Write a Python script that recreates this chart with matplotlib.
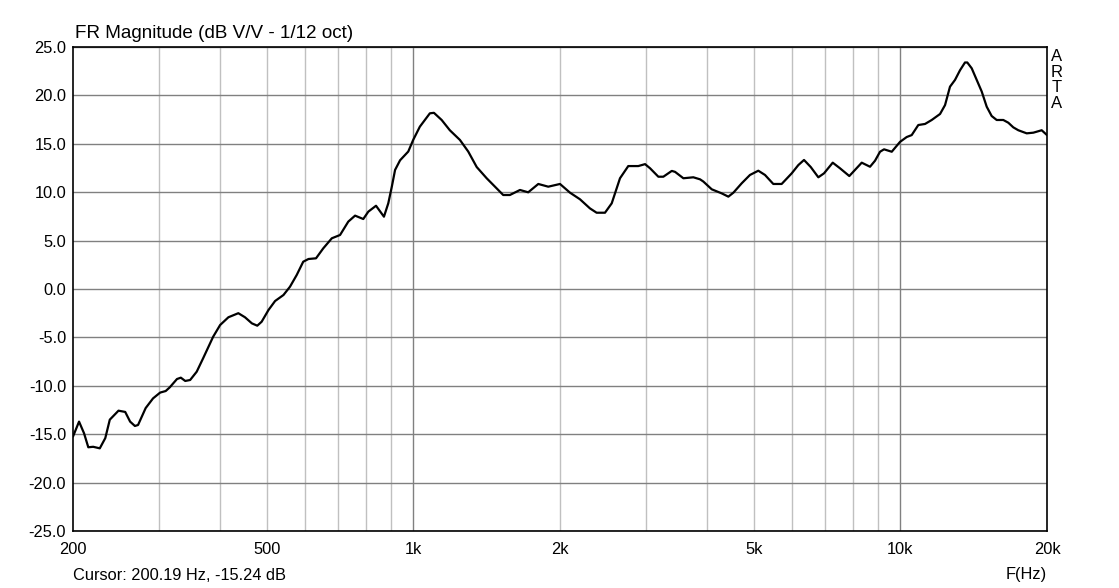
import numpy as np
import matplotlib
matplotlib.use("Agg")
import matplotlib.pyplot as plt
from matplotlib.ticker import FixedLocator, NullFormatter

plt.rcParams['font.family'] = ['Liberation Sans', 'DejaVu Sans']

freq_hz = [200, 205.8, 210.7, 215, 220, 227, 233, 238, 248, 256, 262, 268, 272, 282, 292,
           302, 310, 316, 327, 333, 340, 348, 359, 370, 388, 401, 417, 437, 451, 466, 478,
           488, 504, 520, 541, 558, 576, 594, 609, 631, 653, 680, 707, 735, 759, 789, 808,
           838, 870, 888, 903, 917, 939, 976, 999, 1031, 1081, 1102, 1143, 1188, 1246, 1296,
           1349, 1414, 1471, 1529, 1578, 1655, 1721, 1805, 1892, 2000, 2097, 2198, 2304,
           2378, 2474, 2554, 2656, 2762, 2896, 2990, 3062, 3184, 3260, 3393, 3446, 3584,
           3757, 3878, 3939, 4098, 4296, 4433, 4540, 4722, 4910, 5108, 5272, 5483, 5704,
           5982, 6171, 6340, 6545, 6784, 6969, 7262, 7516, 7854, 8068, 8329, 8662, 8869,
           9082, 9256, 9599, 9983, 10303, 10549, 10883, 11236, 11596, 12062, 12350, 12643,
           12946, 13257, 13571, 13720, 14010, 14344, 14688, 15040, 15397, 15766, 16267,
           16655, 17054, 17463, 18170, 18752, 19504, 20000]
mag_db = [-15.24, -13.7, -14.9, -16.35, -16.3, -16.46, -15.4, -13.5, -12.57, -12.7, -13.7,
          -14.15, -14.05, -12.3, -11.3, -10.7, -10.54, -10.16, -9.3, -9.16, -9.5, -9.4,
          -8.54, -7.16, -4.93, -3.72, -2.92, -2.5, -2.92, -3.55, -3.79, -3.38, -2.17,
          -1.24, -0.62, 0.24, 1.45, 2.82, 3.1, 3.17, 4.2, 5.24, 5.58, 6.96, 7.58, 7.23,
          7.99, 8.6, 7.47, 8.85, 10.57, 12.3, 13.3, 14.2, 15.4, 16.77, 18.15, 18.2, 17.46,
          16.4, 15.4, 14.2, 12.6, 11.44, 10.57, 9.71, 9.71, 10.23, 9.99, 10.85, 10.57,
          10.85, 9.95, 9.27, 8.33, 7.88, 7.88, 8.85, 11.44, 12.7, 12.7, 12.9, 12.47, 11.6,
          11.6, 12.2, 12.1, 11.44, 11.54, 11.33, 11.1, 10.3, 9.88, 9.54, 9.95, 10.92,
          11.78, 12.22, 11.78, 10.85, 10.85, 11.95, 12.8, 13.33, 12.6, 11.54, 11.95,
          13.05, 12.47, 11.67, 12.3, 13.05, 12.63, 13.25, 14.18, 14.43, 14.18, 15.2, 15.7,
          15.9, 16.94, 17.05, 17.46, 18.08, 19.0, 20.9, 21.6, 22.6, 23.4, 23.4, 22.8,
          21.6, 20.4, 18.83, 17.87, 17.46, 17.46, 17.18, 16.7, 16.4, 16.08, 16.15, 16.4,
          15.9]

x_ticks = [200, 500, 1000, 2000, 5000, 10000, 20000]
x_tick_labels = ["200", "500", "1k", "2k", "5k", "10k", "20k"]
minor_grid = [300, 400, 500, 600, 700, 800, 900, 2000, 3000, 4000, 5000, 6000, 7000,
              8000, 9000]
major_grid = [1000, 10000]
y_ticks = [25, 20, 15, 10, 5, 0, -5, -10, -15, -20, -25]
y_tick_labels = ["%.1f" % v for v in y_ticks]

fig = plt.figure(figsize=(11.19, 5.88), dpi=100)
ax = fig.add_axes([73 / 1119, 1 - 531 / 588, 974 / 1119, 484 / 588])
ax.set_xscale('log')
ax.set_xlim(200, 20000)
ax.set_ylim(-25, 25)

for f in minor_grid:
    ax.axvline(f, color='#c0c0c0', lw=1.0, zorder=1)
for f in major_grid:
    ax.axvline(f, color='#808080', lw=1.0, zorder=1)
for v in y_ticks:
    ax.axhline(v, color='#808080', lw=1.0, zorder=1)

ax.plot(freq_hz, mag_db, color='black', lw=1.6, zorder=3,
        solid_joinstyle='round', solid_capstyle='round')

ax.xaxis.set_major_locator(FixedLocator(x_ticks))
ax.set_xticklabels(x_tick_labels)
ax.xaxis.set_minor_formatter(NullFormatter())
ax.xaxis.set_minor_locator(FixedLocator([]))
ax.set_yticks(y_ticks)
ax.set_yticklabels(y_tick_labels)
ax.tick_params(axis='both', length=0, labelsize=11.8)
ax.tick_params(axis='x', pad=8)
ax.tick_params(axis='y', pad=5)
for s in ax.spines.values():
    s.set_color('black')
    s.set_linewidth(1.2)

fig.text(75 / 1119, 1 - 33 / 588, "FR Magnitude (dB V/V - 1/12 oct)", fontsize=13.6,
         ha='left', va='center')
fig.text(73 / 1119, 1 - 575 / 588, "Cursor: 200.19 Hz, -15.24 dB", fontsize=11.8,
         ha='left', va='center')
fig.text(1047 / 1119, 1 - 575 / 588, "F(Hz)", fontsize=11.8, ha='right', va='center')
fig.text(1057 / 1119, 1 - 49 / 588, "A\nR\nT\nA", fontsize=12, ha='center', va='top',
         linespacing=1.05)

fig.savefig("out.png", dpi=100)
